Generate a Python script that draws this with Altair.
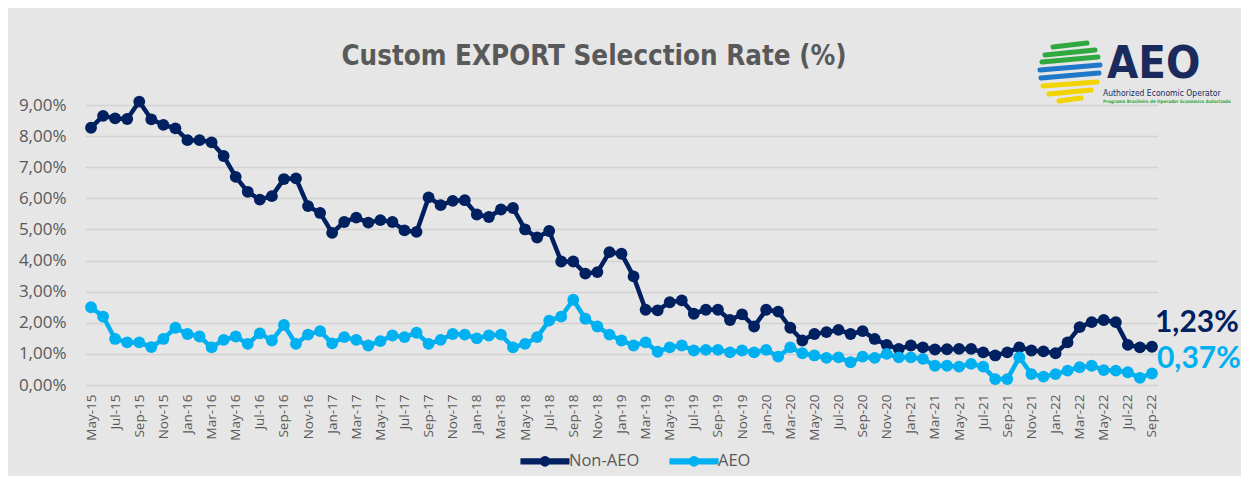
import altair as alt
import pandas as pd

# ---------------- data ----------------
months = list(pd.date_range("2015-05-01", periods=89, freq="MS").strftime("%b-%y"))

non_aeo = [8.27, 8.65, 8.57, 8.55, 9.11, 8.54, 8.36, 8.25, 7.87, 7.87, 7.80, 7.36,
           6.69, 6.21, 5.96, 6.07, 6.62, 6.64, 5.75, 5.53, 4.89, 5.24, 5.38, 5.22,
           5.30, 5.24, 4.97, 4.92, 6.03, 5.78, 5.92, 5.94, 5.48, 5.40, 5.64, 5.69,
           5.00, 4.74, 4.95, 3.97, 3.97, 3.58, 3.63, 4.27, 4.22, 3.49, 2.42, 2.40,
           2.66, 2.72, 2.29, 2.42, 2.42, 2.09, 2.27, 1.88, 2.42, 2.36, 1.84, 1.43,
           1.64, 1.70, 1.77, 1.64, 1.73, 1.48, 1.29, 1.16, 1.27, 1.21, 1.14, 1.15,
           1.16, 1.16, 1.05, 0.95, 1.05, 1.21, 1.11, 1.08, 1.02, 1.37, 1.86, 2.02,
           2.09, 2.02, 1.29, 1.21, 1.23]

aeo = [2.50, 2.20, 1.48, 1.37, 1.37, 1.22, 1.48, 1.84, 1.64, 1.56, 1.21, 1.45,
       1.56, 1.32, 1.66, 1.43, 1.93, 1.32, 1.62, 1.73, 1.34, 1.54, 1.45, 1.27,
       1.41, 1.59, 1.54, 1.68, 1.32, 1.45, 1.64, 1.62, 1.50, 1.59, 1.62, 1.21,
       1.32, 1.54, 2.07, 2.20, 2.74, 2.13, 1.88, 1.62, 1.43, 1.27, 1.37, 1.07,
       1.21, 1.27, 1.11, 1.13, 1.13, 1.05, 1.11, 1.05, 1.13, 0.91, 1.21, 1.02,
       0.95, 0.87, 0.89, 0.73, 0.91, 0.87, 1.00, 0.89, 0.89, 0.84, 0.62, 0.62,
       0.59, 0.68, 0.59, 0.19, 0.19, 0.89, 0.35, 0.27, 0.35, 0.46, 0.57, 0.62,
       0.48, 0.46, 0.41, 0.23, 0.37]

series_names = ["Non-AEO", "AEO"]
series_colors = ["#002060", "#00B0F0"]
y_ticks = [0, 1, 2, 3, 4, 5, 6, 7, 8, 9]
x_tick_labels = months[::2]
title_text = "Custom EXPORT Selecction Rate (%)"

# ---------------- tables ----------------
df = pd.DataFrame({
    "month": months * 2,
    "value": non_aeo + aeo,
    "series": [series_names[0]] * len(non_aeo) + [series_names[1]] * len(aeo),
})

def pct(v):
    return f"{v:.2f}".replace(".", ",") + "%"

df_end = pd.DataFrame({
    "month": [months[-1], months[-1]],
    "value": [non_aeo[-1], aeo[-1]],
    "series": series_names,
    "label": [pct(non_aeo[-1]), pct(aeo[-1])],
})

deco = pd.DataFrame({"k": [0]})

GREY = "#595959"
LABEL_FONT = "Open Sans"
NARROW = "Liberation Sans Narrow, DejaVu Sans Condensed, sans-serif"

x_enc = alt.X(
    "month:O", sort=months,
    scale=alt.Scale(type="point", padding=0.5),
    axis=alt.Axis(values=x_tick_labels, labelAngle=270, ticks=False, domain=False,
                  grid=False, title=None, labelPadding=9, labelFontSize=13.5,
                  labelColor=GREY, labelFont=LABEL_FONT),
)
y_enc = alt.Y(
    "value:Q",
    scale=alt.Scale(domain=[0, 9], nice=False, zero=True),
    axis=alt.Axis(values=y_ticks,
                  labelExpr="replace(format(datum.value, '.2f'), '.', ',') + '%'",
                  domain=False, ticks=False, title=None, labelPadding=19,
                  labelFontSize=17, labelColor=GREY, labelFont=LABEL_FONT,
                  gridColor="#d2d2d2", gridWidth=1.5),
)
color_scale = alt.Scale(domain=series_names, range=series_colors)

legend_path = ("M-2.05,-0.1 L2.05,-0.1 L2.05,0.1 L-2.05,0.1 Z "
               "M0.3,0 A0.3,0.3 0 1,1 -0.3,0 A0.3,0.3 0 1,1 0.3,0 Z")
legend = alt.Legend(title=None, orient="none", direction="horizontal",
                    legendX=447, legendY=343,
                    symbolType=legend_path, symbolSize=484,
                    symbolStrokeWidth=4, symbolOpacity=1, labelOffset=11,
                    columnPadding=23, labelFontSize=16.5,
                    labelColor=GREY, labelFont=LABEL_FONT)

lines = alt.Chart(df).mark_line(strokeWidth=4.5, strokeJoin="round").encode(
    x=x_enc, y=y_enc,
    color=alt.Color("series:N", scale=color_scale, legend=legend),
)

points = alt.Chart(df).mark_point(filled=True, size=140, opacity=1).encode(
    x=x_enc, y=y_enc,
    color=alt.Color("series:N", scale=color_scale, legend=legend),
)

end_top = alt.Chart(df_end).transform_filter(
    alt.datum.series == series_names[0]
).mark_text(align="left", baseline="alphabetic", dx=3, dy=-15, fontSize=30,
            fontWeight="bold", font="Lato", color=series_colors[0]).encode(
    x=x_enc, y=y_enc, text="label:N")

end_bot = alt.Chart(df_end).transform_filter(
    alt.datum.series == series_names[1]
).mark_text(align="left", baseline="alphabetic", dx=5, dy=-5, fontSize=30,
            fontWeight="bold", font="Lato", color=series_colors[1]).encode(
    x=x_enc, y=y_enc, text="label:N")

# ---------------- title (text placed above plot) ----------------
title = alt.Chart(deco).mark_text(
    text=title_text, align="center", baseline="alphabetic", fontSize=27.5,
    fontWeight="bold", font=NARROW, color=GREY
).encode(x=alt.value(509), y=alt.value(-40))

# ---------------- logo (decoration) ----------------
stripes = [
    ("#2EA83F", 968, -58, 1002, -62), ("#2EA83F", 960, -50, 1010, -55),
    ("#2EA83F", 957, -43, 1013, -48), ("#1F78C8", 955, -35, 1015, -40),
    ("#1F78C8", 956, -27, 1014, -32), ("#F2D500", 958, -19, 1012, -23),
    ("#F2D500", 964, -11, 1006, -15), ("#F2D500", 974, -4, 996, -7),
]
logo_layers = []
for c, x1, y1, x2, y2 in stripes:
    logo_layers.append(
        alt.Chart(deco).mark_rule(color=c, strokeWidth=5, strokeCap="round").encode(
            x=alt.value(x1), y=alt.value(y1), x2=alt.value(x2), y2=alt.value(y2)))

logo_layers.append(alt.Chart(deco).mark_text(
    text="AEO", align="left", baseline="alphabetic", fontSize=45, fontWeight="bold",
    font=NARROW, color="#1B2A5C"
).encode(x=alt.value(1022), y=alt.value(-27)))
logo_layers.append(alt.Chart(deco).mark_text(
    text="Authorized Economic Operator", align="left", baseline="alphabetic",
    fontSize=8.5, font=NARROW, color="#1B2A5C").encode(x=alt.value(1018), y=alt.value(-9)))
logo_layers.append(alt.Chart(deco).mark_text(
    text="Programa Brasileiro de Operador Econômico Autorizado", align="left",
    baseline="alphabetic", fontSize=4.5, fontWeight="bold", font="DejaVu Sans Condensed",
    color="#2EA83F").encode(x=alt.value(1018), y=alt.value(-2)))

chart = alt.layer(lines, points, end_top, end_bot, title, *logo_layers).properties(
    width=1073, height=280,
    background="#E6E6E6",
    padding={"left": 77, "top": 97, "right": 83, "bottom": 91},
    autosize=alt.AutoSizeParams(type="none"),
).configure_view(stroke=None)

chart.save("out.html", embed_options={"renderer": "svg", "actions": False})
